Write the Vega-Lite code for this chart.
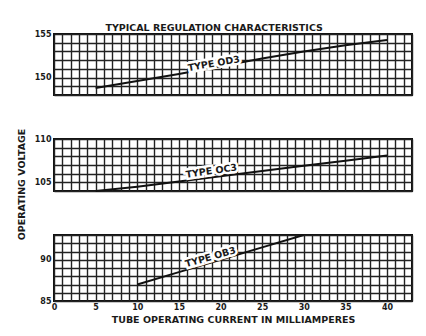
{
  "$schema": "https://vega.github.io/schema/vega-lite/v6.json",
  "background": "white",
  "padding": {"left": 15, "top": 22, "right": 10, "bottom": 10},
  "bounds": "flush",
  "spacing": 44,
  "title": {"text": "TYPICAL REGULATION CHARACTERISTICS", "font": "DejaVu Sans", "fontWeight": "bold", "fontSize": 9.5, "color": "#1a1a1a", "anchor": "middle", "offset": 3, "dy": 6},
  "datasets": {
    "od3": [
      {"current": 5, "voltage": 148.8}, {"current": 10, "voltage": 149.6}, {"current": 15, "voltage": 150.4},
      {"current": 20, "voltage": 151.3}, {"current": 25, "voltage": 152.2}, {"current": 30, "voltage": 153.0},
      {"current": 35, "voltage": 153.7}, {"current": 40, "voltage": 154.3}
    ],
    "oc3": [
      {"current": 5, "voltage": 104.0}, {"current": 10, "voltage": 104.5}, {"current": 15, "voltage": 105.1},
      {"current": 20, "voltage": 105.7}, {"current": 25, "voltage": 106.3}, {"current": 30, "voltage": 106.9},
      {"current": 35, "voltage": 107.5}, {"current": 40, "voltage": 108.1}
    ],
    "ob3": [
      {"current": 10, "voltage": 87.0}, {"current": 15, "voltage": 88.5}, {"current": 20, "voltage": 90.0},
      {"current": 25, "voltage": 91.5}, {"current": 30, "voltage": 93.0}
    ],
    "lab_od3": [{"current": 19.2, "voltage": 151.6, "label": "TYPE OD3"}],
    "lab_oc3": [{"current": 18.9, "voltage": 106.3, "label": "TYPE OC3"}],
    "lab_ob3": [{"current": 18.8, "voltage": 90.3, "label": "TYPE OB3"}]
  },
  "vconcat": [
    {
      "width": 358, "height": 61,
      "encoding": {
        "x": {"field": "current", "type": "quantitative", "scale": {"domain": [0, 43], "nice": false, "zero": false},
              "axis": {"values": [0,1,2,3,4,5,6,7,8,9,10,11,12,13,14,15,16,17,18,19,20,21,22,23,24,25,26,27,28,29,30,31,32,33,34,35,36,37,38,39,40,41,42,43], "labels": false, "title": null}},
        "y": {"field": "voltage", "type": "quantitative", "scale": {"domain": [148, 155], "nice": false, "zero": false},
              "axis": {"values": [148,149,150,151,152,153,154,155], "labelExpr": "datum.value % 5 === 0 ? datum.label : ''", "title": null}}
      },
      "layer": [
        {"data": {"name": "od3"}, "mark": {"type": "line", "color": "#111", "strokeWidth": 2}},
        {"data": {"name": "lab_od3"}, "mark": {"type": "text", "angle": 350, "font": "DejaVu Sans", "fontWeight": "bold", "fontSize": 9.5, "stroke": "white", "strokeWidth": 5, "fill": "white"}, "encoding": {"text": {"field": "label"}}},
        {"data": {"name": "lab_od3"}, "mark": {"type": "text", "angle": 350, "font": "DejaVu Sans", "fontWeight": "bold", "fontSize": 9.5, "fill": "#1a1a1a"}, "encoding": {"text": {"field": "label"}}}
      ]
    },
    {
      "width": 358, "height": 52,
      "encoding": {
        "x": {"field": "current", "type": "quantitative", "scale": {"domain": [0, 43], "nice": false, "zero": false},
              "axis": {"values": [0,1,2,3,4,5,6,7,8,9,10,11,12,13,14,15,16,17,18,19,20,21,22,23,24,25,26,27,28,29,30,31,32,33,34,35,36,37,38,39,40,41,42,43], "labels": false, "title": null}},
        "y": {"field": "voltage", "type": "quantitative", "scale": {"domain": [104, 110], "nice": false, "zero": false},
              "axis": {"values": [104,105,106,107,108,109,110], "labelExpr": "datum.value % 5 === 0 ? datum.label : ''", "title": "OPERATING VOLTAGE", "titleY": 45, "titlePadding": 8}}
      },
      "layer": [
        {"data": {"name": "oc3"}, "mark": {"type": "line", "color": "#111", "strokeWidth": 2}},
        {"data": {"name": "lab_oc3"}, "mark": {"type": "text", "angle": 352, "font": "DejaVu Sans", "fontWeight": "bold", "fontSize": 9.5, "stroke": "white", "strokeWidth": 5, "fill": "white"}, "encoding": {"text": {"field": "label"}}},
        {"data": {"name": "lab_oc3"}, "mark": {"type": "text", "angle": 352, "font": "DejaVu Sans", "fontWeight": "bold", "fontSize": 9.5, "fill": "#1a1a1a"}, "encoding": {"text": {"field": "label"}}}
      ]
    },
    {
      "width": 358, "height": 66,
      "encoding": {
        "x": {"field": "current", "type": "quantitative", "scale": {"domain": [0, 43], "nice": false, "zero": false},
              "axis": {"values": [0,1,2,3,4,5,6,7,8,9,10,11,12,13,14,15,16,17,18,19,20,21,22,23,24,25,26,27,28,29,30,31,32,33,34,35,36,37,38,39,40,41,42,43], "labelExpr": "datum.value % 5 === 0 && datum.value <= 40 ? datum.label : ''", "title": "TUBE OPERATING CURRENT IN MILLIAMPERES", "titlePadding": 3}},
        "y": {"field": "voltage", "type": "quantitative", "scale": {"domain": [85, 93], "nice": false, "zero": false},
              "axis": {"values": [85,86,87,88,89,90,91,92,93], "labelExpr": "datum.value % 5 === 0 ? datum.label : ''", "title": null}}
      },
      "layer": [
        {"data": {"name": "ob3"}, "mark": {"type": "line", "color": "#111", "strokeWidth": 2}},
        {"data": {"name": "lab_ob3"}, "mark": {"type": "text", "angle": 344, "font": "DejaVu Sans", "fontWeight": "bold", "fontSize": 9.5, "stroke": "white", "strokeWidth": 5, "fill": "white"}, "encoding": {"text": {"field": "label"}}},
        {"data": {"name": "lab_ob3"}, "mark": {"type": "text", "angle": 344, "font": "DejaVu Sans", "fontWeight": "bold", "fontSize": 9.5, "fill": "#1a1a1a"}, "encoding": {"text": {"field": "label"}}}
      ]
    }
  ],
  "config": {
    "view": {"stroke": "#111", "strokeWidth": 2},
    "axis": {
      "grid": true, "gridColor": "#222", "gridWidth": 1.4, "gridOpacity": 1,
      "domain": false, "ticks": false,
      "labelFont": "DejaVu Sans", "labelFontWeight": "bold", "labelFontSize": 8, "labelColor": "#1a1a1a",
      "labelOverlap": false, "labelFlush": false, "labelPadding": 3,
      "titleFont": "DejaVu Sans", "titleFontWeight": "bold", "titleFontSize": 9.5, "titleColor": "#1a1a1a"
    },
    "axisX": {"labelPadding": 2}
  }
}
